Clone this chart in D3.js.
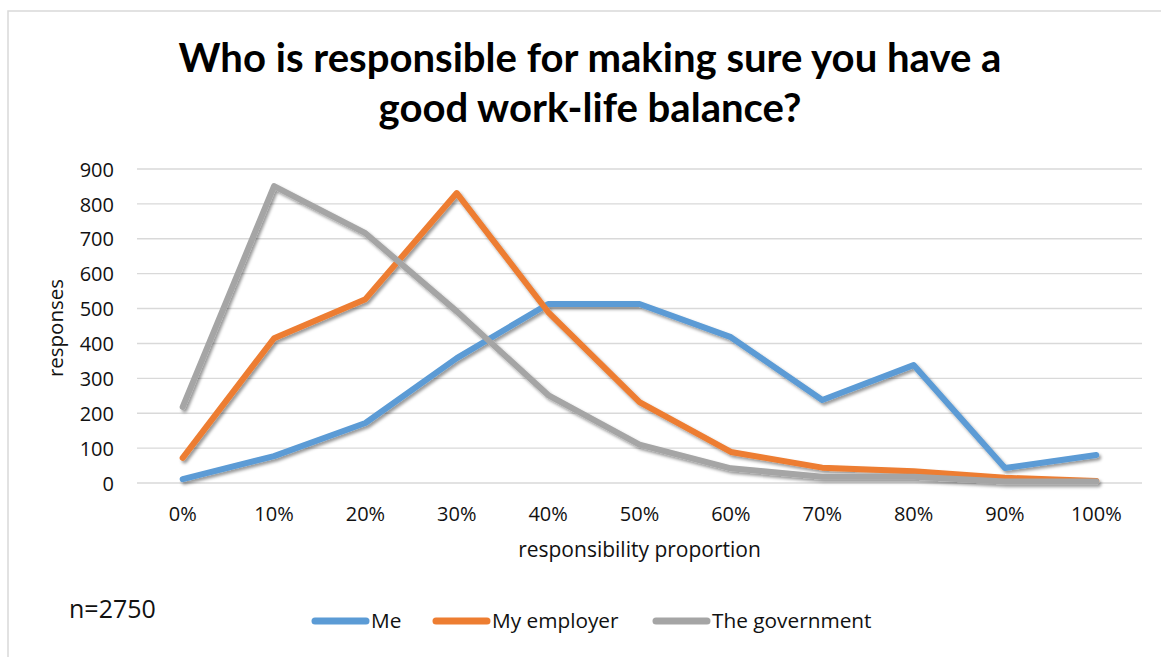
<!DOCTYPE html>
<html>
<head>
<meta charset="utf-8">
<script src="https://cdn.jsdelivr.net/npm/d3@7"></script>
<style>
  html, body { margin: 0; padding: 0; background: #fff; }
  svg { display: block; font-family: "Open Sans", Lato, sans-serif; }
</style>
</head>
<body>
<svg id="chart" width="1161" height="657"></svg>
<script>
const categories = ["0%", "10%", "20%", "30%", "40%", "50%", "60%", "70%", "80%", "90%", "100%"];
const meValues = [11, 77, 172, 358, 513, 513, 418, 238, 338, 43, 80];
const employerValues = [72, 415, 527, 831, 490, 232, 89, 44, 34, 15, 6];
const governmentValues = [218, 851, 716, 492, 252, 110, 42, 18, 18, 4, 4];
const seriesNames = ["Me", "My employer", "The government"];
const seriesColors = ["#5B9BD5", "#ED7D31", "#A5A5A5"];
const yTicks = [0, 100, 200, 300, 400, 500, 600, 700, 800, 900];
const titleLines = ["Who is responsible for making sure you have a", "good work-life balance?"];

const series = [meValues, employerValues, governmentValues].map((v, i) => ({
  name: seriesNames[i], color: seriesColors[i],
  values: v.map((d, j) => ({ cat: categories[j], value: d }))
}));

const svg = d3.select("#chart");

// chart border
svg.append("rect").attr("x", 8).attr("y", 11).attr("width", 1170).attr("height", 670)
  .attr("fill", "none").attr("stroke", "#d9d9d9").attr("stroke-width", 1.5);

// shadow filter
const defs = svg.append("defs");
const f = defs.append("filter").attr("id", "shadow").attr("x", "-10%").attr("y", "-10%")
  .attr("width", "120%").attr("height", "120%");
f.append("feDropShadow").attr("dx", 2).attr("dy", 2.5).attr("stdDeviation", 1.8)
  .attr("flood-color", "#000").attr("flood-opacity", 0.4);

const plotLeft = 137, plotRight = 1142, plotTop = 169, plotBottom = 483;

const xBand = d3.scaleBand().domain(categories).range([plotLeft, plotRight]);
const x = c => xBand(c) + xBand.bandwidth() / 2;
const y = d3.scaleLinear().domain([0, 900]).range([plotBottom, plotTop]);

// gridlines
svg.append("g").selectAll("line").data(yTicks).join("line")
  .attr("x1", plotLeft).attr("x2", plotRight)
  .attr("y1", d => y(d)).attr("y2", d => y(d))
  .attr("stroke", "#d9d9d9").attr("stroke-width", 1.4);

// y axis labels
const yAxis = d3.axisLeft(y).tickValues(yTicks).tickSize(0).tickPadding(0);
const gy = svg.append("g").attr("transform", `translate(${plotLeft - 23},0)`).call(yAxis);
gy.select(".domain").remove();
gy.selectAll("text").attr("font-size", 20).attr("fill", "#111").attr("font-family", "Open Sans").attr("dy", "0.36em");

// x axis labels
const xAxis = d3.axisBottom(xBand).tickSize(0).tickPadding(0);
const gx = svg.append("g").attr("transform", `translate(0,${plotBottom + 24})`).call(xAxis);
gx.select(".domain").remove();
gx.selectAll("text").attr("font-size", 20).attr("fill", "#111").attr("font-family", "Open Sans").attr("dy", "0.72em");

// lines
const line = d3.line().x(d => x(d.cat)).y(d => y(d.value));
svg.append("g").attr("filter", "url(#shadow)").selectAll("path").data(series).join("path")
  .attr("d", d => line(d.values))
  .attr("fill", "none").attr("stroke", d => d.color)
  .attr("stroke-width", 6).attr("stroke-linejoin", "round").attr("stroke-linecap", "round");

// title
const title = svg.append("g").attr("font-family", "Lato");
const targetWidth = 823;
titleLines.forEach((t, i) => {
  title.append("text").attr("x", 590).attr("y", 72 + i * 50)
    .attr("text-anchor", "middle").attr("font-size", 36).attr("font-weight", "bold")
    .attr("fill", "#000").text(t);
});
{
  const first = title.select("text").node();
  const w = first.getComputedTextLength();
  title.selectAll("text").attr("font-size", 36 * targetWidth / w);
}

// axis titles
svg.append("text").attr("transform", `translate(63,328) rotate(-90)`)
  .attr("text-anchor", "middle").attr("font-size", 20.5).attr("fill", "#111").text("responses");
svg.append("text").attr("x", (plotLeft + plotRight) / 2).attr("y", 557)
  .attr("text-anchor", "middle").attr("font-size", 21).attr("fill", "#111").text("responsibility proportion");

// n annotation
svg.append("text").attr("x", 69).attr("y", 618).attr("font-size", 25).attr("fill", "#111").text("n=2750");

// legend
const legendX = [312, 433, 653];
const lg = svg.append("g");
series.forEach((s, i) => {
  lg.append("line").attr("x1", legendX[i] + 3).attr("x2", legendX[i] + 54)
    .attr("y1", 621).attr("y2", 621).attr("stroke", s.color).attr("stroke-width", 7)
    .attr("stroke-linecap", "round");
  lg.append("text").attr("x", legendX[i] + 59).attr("y", 628).attr("font-size", 20.8)
    .attr("fill", "#111").text(s.name);
});
</script>
</body>
</html>
